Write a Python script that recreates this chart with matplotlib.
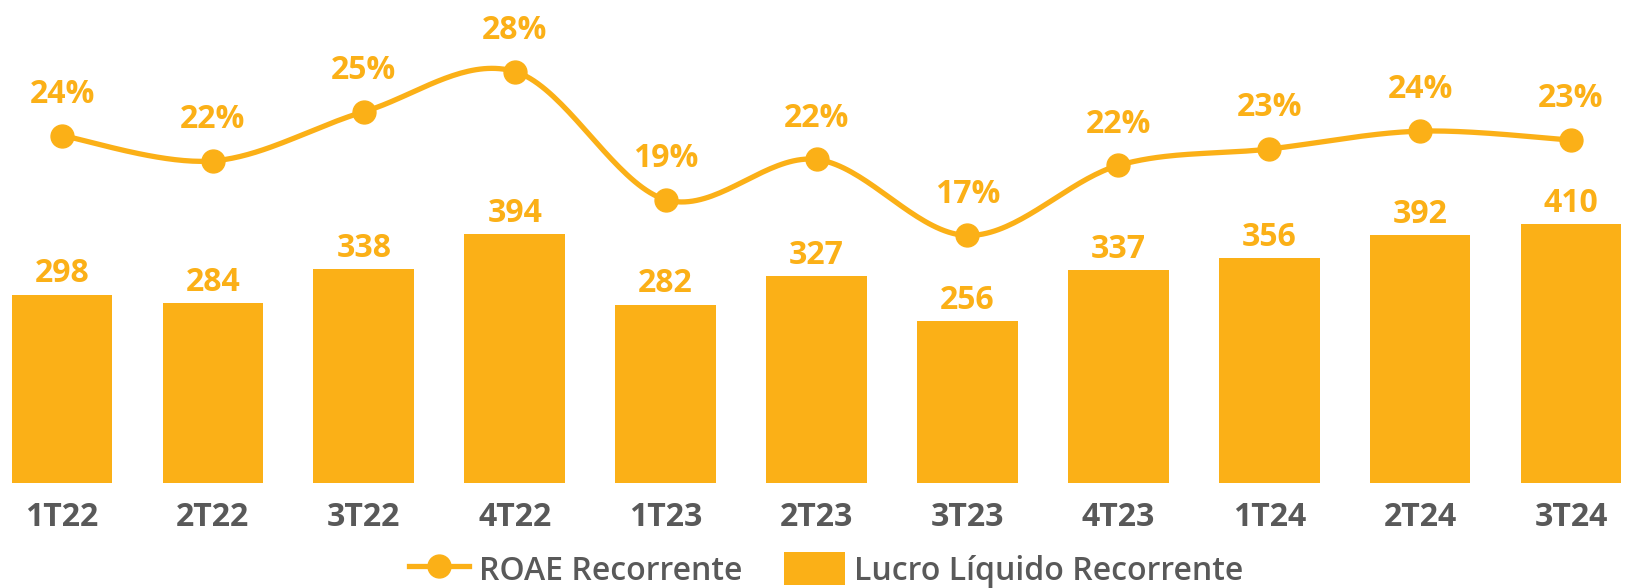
import numpy as np
import matplotlib.pyplot as plt
from matplotlib.lines import Line2D
from matplotlib.patches import Patch

# dados
trimestres = ["1T22", "2T22", "3T22", "4T22", "1T23", "2T23", "3T23", "4T23", "1T24", "2T24", "3T24"]
lucro = [298, 284, 338, 394, 282, 327, 256, 337, 356, 392, 410]
roae = [23.7, 22.0, 25.3, 28.0, 19.4, 22.1, 17.0, 21.7, 22.8, 24.0, 23.4]

laranja = "#FBB017"
cinza = "#595959"
plt.rcParams["font.family"] = ["Open Sans", "DejaVu Sans"]

fig = plt.figure(figsize=(16.27, 5.88), dpi=100)
ax = fig.add_axes([0, 0.1794, 1, 0.8206])
x = np.arange(len(trimestres))

# barras
bars = ax.bar(x, lucro, width=0.667, color=laranja, zorder=2)
for xi, v in zip(x, lucro):
    ax.annotate(str(v), (xi, v), xytext=(0, 9), textcoords="offset points",
                ha="center", va="baseline", fontsize=23, fontweight="bold", color=laranja)
ax.set_xlim(-0.411, 10.371)
ax.set_ylim(0, 765.3)
ax.set_xticks(x)
ax.set_xticklabels(trimestres, fontsize=23, fontweight="bold", color=cinza)
ax.tick_params(axis="x", length=0, pad=13)
ax.set_yticks([])
for s in ax.spines.values():
    s.set_visible(False)

# linha suavizada (estilo Excel)
ax2 = ax.twinx()
ax2.set_ylim(0.42, 32.8)
ax2.set_yticks([])
for s in ax2.spines.values():
    s.set_visible(False)

P = np.column_stack([x, roae]).astype(float)
Pext = np.vstack([P[0], P, P[-1]])
curva = []
t = np.linspace(0, 1, 40)
for i in range(len(P) - 1):
    p0, p3 = P[i], P[i + 1]
    c1 = p0 + (Pext[i + 2] - Pext[i]) / 6
    c2 = p3 - (Pext[i + 3] - Pext[i + 1]) / 6
    seg = ((1 - t) ** 3)[:, None] * p0 + (3 * (1 - t) ** 2 * t)[:, None] * c1 \
        + (3 * (1 - t) * t ** 2)[:, None] * c2 + (t ** 3)[:, None] * p3
    curva.append(seg)
curva = np.vstack(curva)
ax2.plot(curva[:, 0], curva[:, 1], color=laranja, lw=3.8, solid_capstyle="round", zorder=3)
ax2.plot(x, roae, "o", color=laranja, markersize=16.5, zorder=4)
for xi, v in zip(x, roae):
    ax2.annotate(f"{round(v):.0f}%", (xi, v), xytext=(0, 23.5), textcoords="offset points",
                 ha="center", va="baseline", fontsize=23, fontweight="bold", color=laranja)

# legenda
handles = [Line2D([0], [0], color=laranja, lw=3.8, marker="o", markersize=16.5),
           Patch(facecolor=laranja, edgecolor="none")]
leg = fig.legend(handles, ["ROAE Recorrente", "Lucro Líquido Recorrente"],
                 loc="center", bbox_to_anchor=(826 / 1627, 1 - 570 / 588), ncol=2,
                 frameon=False, fontsize=23, handlelength=1.9, handleheight=1.2,
                 handletextpad=0.3, columnspacing=1.3)
for txt in leg.get_texts():
    txt.set_color(cinza)
    txt.set_fontweight("semibold")

fig.savefig("out.png", dpi=100)
